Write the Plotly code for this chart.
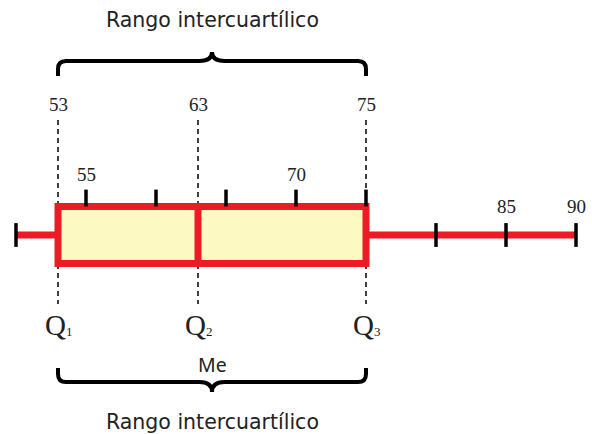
import plotly.graph_objects as go

# ---- data ----
minimum = 50
q1 = 53
median = 63
q3 = 75
maximum = 90
ticks_upper = [55, 60, 65, 70, 75]
ticks_lower = [50, 80, 85, 90]
labels_quartiles = ["53", "63", "75"]
labels_mid = [55, 70]
labels_low = [85, 90]
q_subs = ["1", "2", "3"]
title_text = "Rango intercuartílico"
median_text = "Me"

RED = "#ed1c24"
FILL = "#fdf9c3"
SERIF = "Liberation Serif"
SANS = "Noto Sans"
TITLE_FONT = "DejaVu Sans"

fig = go.Figure()

# box
fig.add_trace(go.Box(
    y=[235], q1=[q1], median=[median], q3=[q3],
    lowerfence=[minimum], upperfence=[maximum],
    orientation="h", width=57, whiskerwidth=0,
    line=dict(color=RED, width=7), fillcolor=FILL,
    boxpoints=False, hoverinfo="skip", showlegend=False,
))

# ticks on whisker line
fig.add_trace(go.Scatter(
    x=ticks_lower, y=[235] * len(ticks_lower), mode="markers",
    marker=dict(symbol="line-ns", size=17, line=dict(color="black", width=3.5)),
    hoverinfo="skip", showlegend=False,
))
# ticks above box
fig.add_trace(go.Scatter(
    x=ticks_upper, y=[198] * len(ticks_upper), mode="markers",
    marker=dict(symbol="line-ns", size=12, line=dict(color="black", width=3.5)),
    hoverinfo="skip", showlegend=False,
))

shapes = []
# dashed quartile lines
for v in [q1, median, q3]:
    shapes.append(dict(type="line", xref="x", yref="y", x0=v, x1=v, y0=120, y1=304,
                       line=dict(color="black", width=1.5, dash="5px,4px"), layer="below"))

# braces
mid = (q1 + q3) / 2
r = 0.57
def brace(end_y, line_y, tip_y):
    s = 1 if end_y > line_y else -1
    corner = line_y + s * 8
    return (f"M {q1},{end_y} L {q1},{corner} Q {q1},{line_y} {q1 + r},{line_y} "
            f"L {mid - 0.9},{line_y} Q {mid},{line_y} {mid},{tip_y} "
            f"Q {mid},{line_y} {mid + 0.9},{line_y} "
            f"L {q3 - r},{line_y} Q {q3},{line_y} {q3},{corner} L {q3},{end_y}")

shapes.append(dict(type="path", xref="x", yref="y", path=brace(76, 61, 52),
                   line=dict(color="black", width=4)))
shapes.append(dict(type="path", xref="x", yref="y", path=brace(368, 382, 392),
                   line=dict(color="black", width=4)))

ann = []
for v, t in zip([q1, median, q3], labels_quartiles):
    ann.append(dict(x=v, y=104, text=t, font=dict(family=SERIF, size=19, color="#222")))
for v in labels_mid:
    ann.append(dict(x=v, y=174, text=str(v), font=dict(family=SERIF, size=19, color="#222")))
for v in labels_low:
    ann.append(dict(x=v, y=206, text=str(v), font=dict(family=SERIF, size=19, color="#222")))
for v, s in zip([q1, median, q3], q_subs):
    ann.append(dict(x=v, y=325, text="Q", xanchor="right", xshift=10,
                    font=dict(family=SERIF, size=29, color="#222")))
    ann.append(dict(x=v, y=331, text=s, xanchor="left", xshift=6,
                    font=dict(family=SERIF, size=13, color="#222")))
ann.append(dict(x=mid, y=364, text=median_text, font=dict(family=SANS, size=19.5, color="#222")))
ann.append(dict(x=mid, y=20, text=title_text, font=dict(family=TITLE_FONT, size=20.5, color="#222")))
ann.append(dict(x=mid, y=422, text=title_text, font=dict(family=TITLE_FONT, size=20.5, color="#222")))
for a in ann:
    a.setdefault("xanchor", "center")
    a.update(xref="x", yref="y", showarrow=False, yanchor="middle")

x0 = minimum - 16 / 14
x1 = minimum + (592 - 16) / 14
fig.update_layout(
    width=592, height=434, margin=dict(l=0, r=0, t=0, b=0),
    paper_bgcolor="white", plot_bgcolor="white",
    xaxis=dict(range=[x0, x1], visible=False, fixedrange=True),
    yaxis=dict(range=[434, 0], visible=False, fixedrange=True),
    shapes=shapes, annotations=ann, showlegend=False,
)
fig.write_html("out.html", config={"displayModeBar": False},
               post_script="document.body.style.margin='0';document.body.style.overflow='hidden';")
